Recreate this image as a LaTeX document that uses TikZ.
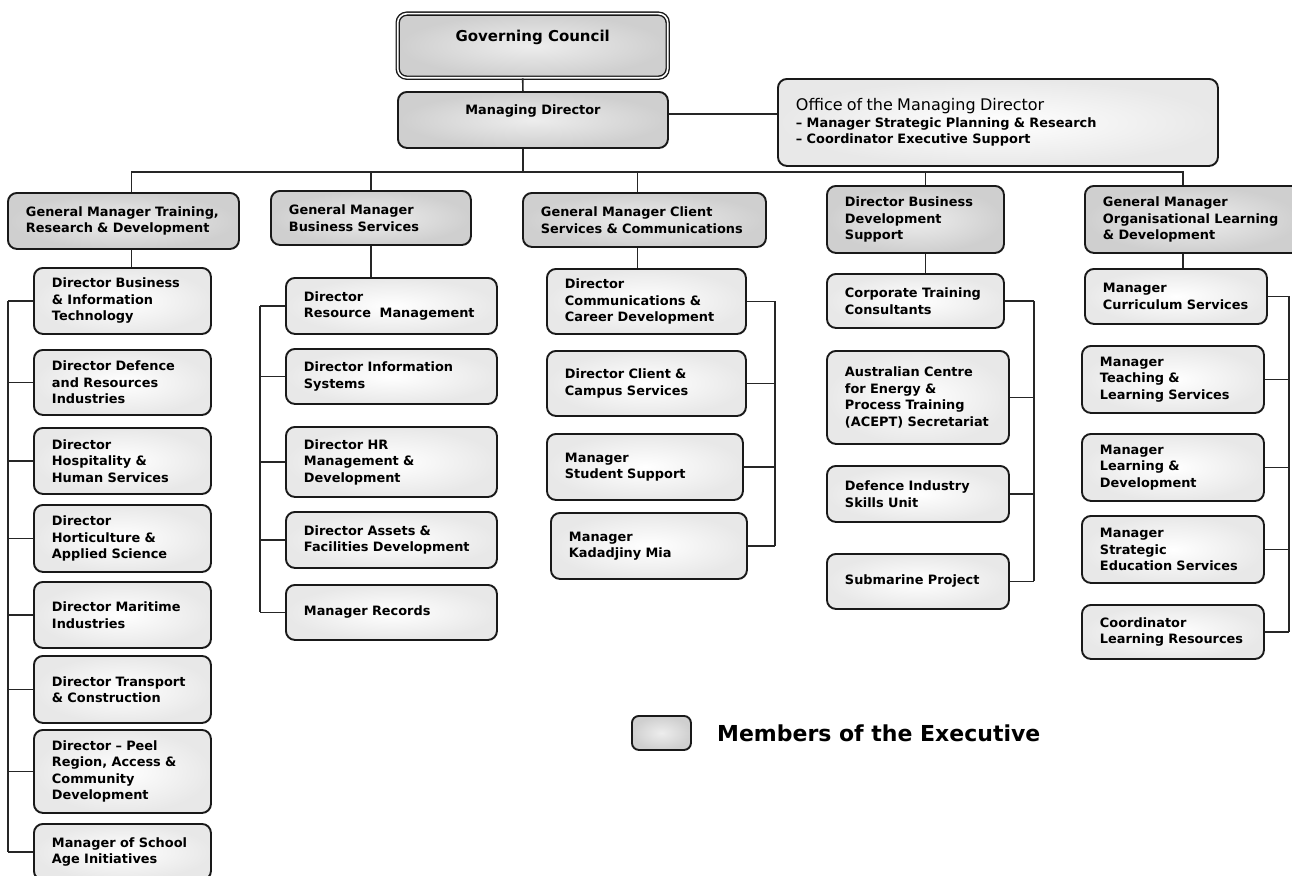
\documentclass[tikz,border=0pt]{standalone}
\usepackage{fontspec}
\setmainfont{DejaVu Sans}
\usetikzlibrary{positioning}

\newcommand\lift[1]{\rule[-#1]{0pt}{#1}}

\tikzset{
  base/.style={draw=black!90, line width=1.9pt, rounded corners=9pt,
    anchor=north west, inner xsep=18pt, inner ysep=3pt,
    font=\bfseries\fontsize{12.9}{16.5}\selectfont},
  cell/.style 2 args={base, minimum width=#1, minimum height=#2,
    text width=#1-36, execute at begin node={\rightskip=-40pt plus 1fil},
    inner color=white, outer color=black!9},
  exec/.style 2 args={cell={#1}{#2}, inner color=black!7, outer color=black!19},
  head/.style 2 args={base, minimum width=#1, minimum height=#2,
    inner color=black!7, outer color=black!19},
  link/.style={line width=1.6pt, black!85}
}

\begin{document}
\begin{tikzpicture}[x=1pt, y=-1pt]
\path[fill=white] (0,0) rectangle (1292,875);
\useasboundingbox (0,0) rectangle (1292,875);

% top of the chart
\node[head={270}{64}, double, double distance=1.6pt, line width=1.4pt,
  font=\bfseries\fontsize{15}{18}\selectfont] (gc) at (397,13) {Governing Council\lift{19pt}};
\node[head={270}{56}] (md) at (397,91) {Managing Director\lift{20pt}};
\node[cell={440}{87}] (omd) at (777,78) {{\mdseries\fontsize{16}{19}\selectfont Office of the Managing Director}\\
  – Manager Strategic Planning \& Research\\– Coordinator Executive Support};

% executive row
\node[exec={231}{56}] (gm1) at (7,192) {General Manager Training,\\Research \& Development};
\node[exec={200}{54}] (gm2) at (270,190) {General Manager\\Business Services};
\node[exec={243}{54}] (gm3) at (522,192) {General Manager Client\\Services \& Communications};
\node[exec={177}{67}] (gm4) at (826,185) {Director Business\\Development\\Support};
\node[exec={216}{67}] (gm5) at (1084,185) {General Manager\\Organisational Learning\\\& Development};

% training, research & development
\node[cell={177}{66}] (d11) at (33,267) {Director Business\\\& Information\\Technology};
\node[cell={177}{65}] (d12) at (33,349) {Director Defence\\and Resources\\Industries};
\node[cell={177}{66}] (d13) at (33,427) {Director\\Hospitality \&\\Human Services};
\node[cell={177}{67}] (d14) at (33,504) {Director\\Horticulture \&\\Applied Science};
\node[cell={177}{66}] (d15) at (33,581) {Director Maritime\\Industries};
\node[cell={177}{67}] (d16) at (33,655) {Director Transport\\\& Construction};
\node[cell={177}{83}] (d17) at (33,729) {Director – Peel\\Region, Access \&\\Community\\Development};
\node[cell={177}{56}] (d18) at (33,823) {Manager of School\\Age Initiatives};

% business services
\node[cell={211}{56}] (d21) at (285,277) {Director\\Resource~ Management};
\node[cell={211}{55}] (d22) at (285,348) {Director Information\\Systems};
\node[cell={211}{70}] (d23) at (285,426) {Director HR\\Management \&\\Development};
\node[cell={211}{56}] (d24) at (285,511) {Director Assets \&\\Facilities Development};
\node[cell={211}{55}] (d25) at (285,584) {Manager Records};

% client services & communications
\node[cell={199}{65}] (d31) at (546,268) {Director\\Communications \&\\Career Development};
\node[cell={199}{65}] (d32) at (546,350) {Director Client \&\\Campus Services};
\node[cell={196}{66}] (d33) at (546,433) {Manager\\Student Support};
\node[cell={196}{66}] (d34) at (550,512) {Manager\\Kadadjiny Mia};

% business development support
\node[cell={177}{54}] (d41) at (826,273) {Corporate Training\\Consultants};
\node[cell={182}{93}] (d42) at (826,350) {Australian Centre\\for Energy \&\\Process Training\\(ACEPT) Secretariat};
\node[cell={182}{56}] (d43) at (826,465) {Defence Industry\\Skills Unit};
\node[cell={182}{55}] (d44) at (826,553) {Submarine Project};

% organisational learning & development
\node[cell={182}{55}] (d51) at (1084,268) {Manager\\Curriculum Services};
\node[cell={182}{67}] (d52) at (1081,345) {Manager\\Teaching \&\\Learning Services};
\node[cell={182}{67}] (d53) at (1081,433) {Manager\\Learning \&\\Development};
\node[cell={182}{67}] (d54) at (1081,515) {Manager\\Strategic\\Education Services};
\node[cell={182}{54}] (d55) at (1081,604) {Coordinator\\Learning Resources};

% legend
\node[exec={59}{34}, rounded corners=7pt] (leg) at (631,715) {};
\node[right=22pt of leg, inner sep=3pt, font=\bfseries\fontsize{22}{26}\selectfont] (legtext) {Members of the Executive};

% connectors
\coordinate (bus) at (0,172);
\draw[link] ([xshift=-10]gc.south) -- ([xshift=-10]md.north);
\draw[link] ([yshift=6]md.east) -- ([yshift=6]md.east -| omd.west);
\draw[link] ([xshift=-10]md.south) -- ([xshift=-10]md.south |- bus);
\draw[link] ([xshift=8]gm1.north) |- ([xshift=-10]gm5.north |- bus) -- ([xshift=-10]gm5.north);
\draw[link] (gm2.north) -- (gm2.north |- bus);
\draw[link] ([xshift=-7]gm3.north) -- ([xshift=-7]gm3.north |- bus);
\draw[link] ([xshift=10]gm4.north) -- ([xshift=10]gm4.north |- bus);

\draw[link] ([xshift=8]gm1.south) -- ([xshift=8]gm1.south |- d11.north);
\draw[link] (gm2.south) -- (gm2.south |- d21.north);
\draw[link] ([xshift=-7]gm3.south) -- ([xshift=-7]gm3.south |- d31.north);
\draw[link] ([xshift=10]gm4.south) -- ([xshift=10]gm4.south |- d41.north);
\draw[link] ([xshift=-10]gm5.south) -- ([xshift=-10]gm5.south |- d51.north);

\coordinate (c1) at (8,0);
\coordinate (c2) at (260,0);
\coordinate (c3) at (775,0);
\coordinate (c4) at (1034,0);
\coordinate (c5) at (1289,0);
\draw[link] (d11.west -| c1) -- (d18.west -| c1);
\foreach \n in {d11,d12,d13,d14,d15,d16,d17,d18}
  \draw[link] (\n.west) -- (\n.west -| c1);
\draw[link] (d21.west -| c2) -- (d25.west -| c2);
\foreach \n in {d21,d22,d23,d24,d25}
  \draw[link] (\n.west) -- (\n.west -| c2);
\draw[link] (d31.east -| c3) -- (d34.east -| c3);
\foreach \n in {d31,d32,d33,d34}
  \draw[link] (\n.east) -- (\n.east -| c3);
\draw[link] (d41.east -| c4) -- (d44.east -| c4);
\foreach \n in {d41,d42,d43,d44}
  \draw[link] (\n.east) -- (\n.east -| c4);
\draw[link] (d51.east -| c5) -- (d55.east -| c5);
\foreach \n in {d51,d52,d53,d54,d55}
  \draw[link] (\n.east) -- (\n.east -| c5);
\end{tikzpicture}
\end{document}
